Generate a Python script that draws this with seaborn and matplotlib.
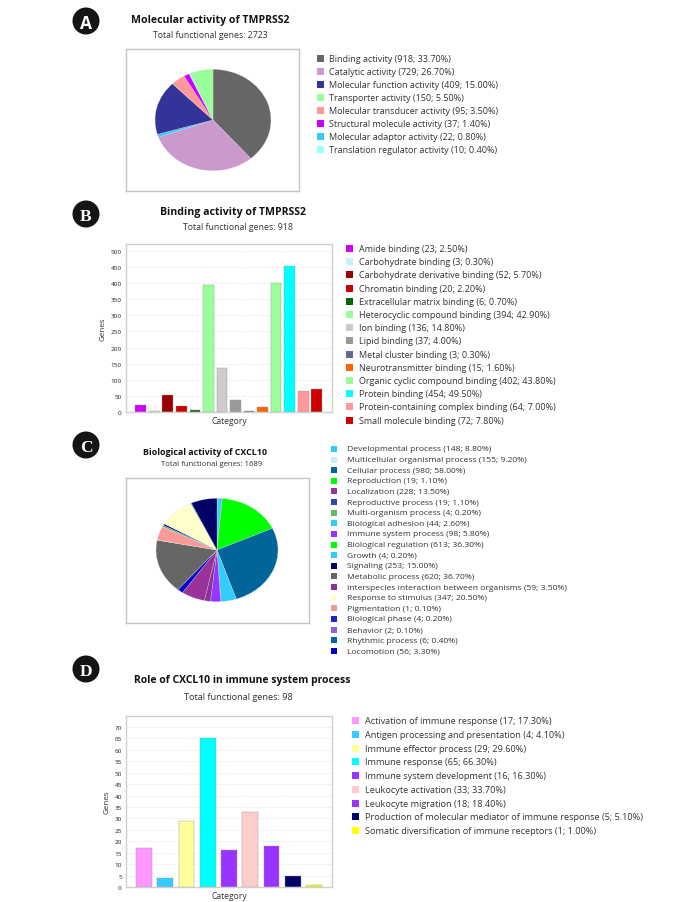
import matplotlib
matplotlib.use("Agg")
import matplotlib.pyplot as plt
import pandas as pd
import seaborn as sns
from matplotlib.patches import Circle, Rectangle

W, H = 679, 903

# Panel A
a_names = ["Binding activity", "Catalytic activity", "Molecular function activity", "Transporter activity",
           "Molecular transducer activity", "Structural molecule activity", "Molecular adaptor activity",
           "Translation regulator activity"]
a_vals = [918, 729, 409, 150, 95, 37, 22, 10]
a_pcts = ["33.70", "26.70", "15.00", "5.50", "3.50", "1.40", "0.80", "0.40"]
a_cols = ["#666666", "#CC99CC", "#333399", "#99FF99", "#FF9999", "#CC00FF", "#33CCFF", "#99FFFF"]
a_pie_order = [0, 1, 6, 2, 4, 5, 7, 3]

# Panel B
b_names = ["Amide binding", "Carbohydrate binding", "Carbohydrate derivative binding", "Chromatin binding",
           "Extracellular matrix binding", "Heterocyclic compound binding", "Ion binding", "Lipid binding",
           "Metal cluster binding", "Neurotransmitter binding", "Organic cyclic compound binding",
           "Protein binding", "Protein-containing complex binding", "Small molecule binding"]
b_vals = [23, 3, 52, 20, 6, 394, 136, 37, 3, 15, 402, 454, 64, 72]
b_pcts = ["2.50", "0.30", "5.70", "2.20", "0.70", "42.90", "14.80", "4.00", "0.30", "1.60", "43.80", "49.50", "7.00", "7.80"]
b_cols = ["#CC00FF", "#CCEEFF", "#990000", "#CC0000", "#006600", "#99FF99", "#CCCCCC", "#999999",
          "#666699", "#FF6600", "#99FF99", "#00FFFF", "#FF9999", "#CC0000"]

# Panel C
c_names = ["Developmental process", "Multicellular organismal process", "Cellular process", "Reproduction",
           "Localization", "Reproductive process", "Multi-organism process", "Biological adhesion",
           "Immune system process", "Biological regulation", "Growth", "Signaling", "Metabolic process",
           "Interspecies interaction between organisms", "Response to stimulus", "Pigmentation",
           "Biological phase", "Behavior", "Rhythmic process", "Locomotion"]
c_vals = [148, 155, 980, 19, 228, 19, 4, 44, 98, 613, 4, 253, 620, 59, 347, 1, 4, 2, 6, 56]
c_pcts = ["8.80", "9.20", "58.00", "1.10", "13.50", "1.10", "0.20", "2.60", "5.80", "36.30", "0.20", "15.00",
          "36.70", "3.50", "20.50", "0.10", "0.20", "0.10", "0.40", "3.30"]
c_leg_cols = ["#33CCFF", "#CCEEEE", "#006699", "#00FF00", "#993399", "#3344AA", "#66BB66", "#33CCFF",
              "#9933FF", "#00FF00", "#33CCFF", "#000066", "#666666", "#883399", "#FFFFCC", "#EE9999",
              "#2222CC", "#8866CC", "#006699", "#0000CC"]
c_pie_order = [17, 7, 16, 9, 2, 0, 10, 8, 13, 4, 19, 12, 6, 1, 15, 3, 5, 14, 18, 11]
c_pie_cols = {7: "#33CCFF", 9: "#00FF00", 2: "#006699", 0: "#33CCFF", 8: "#9933FF", 13: "#883399", 4: "#993399",
              19: "#0000CC", 12: "#666666", 1: "#FF9999", 6: "#66BB66", 3: "#66BB66", 5: "#000099", 14: "#FFFFCC",
              18: "#006699", 11: "#000066", 17: "#8866CC", 16: "#2222CC", 10: "#33CCFF", 15: "#EE9999"}

# Panel D
d_names = ["Activation of immune response", "Antigen processing and presentation", "Immune effector process",
           "Immune response", "Immune system development", "Leukocyte activation", "Leukocyte migration",
           "Production of molecular mediator of immune response", "Somatic diversification of immune receptors"]
d_vals = [17, 4, 29, 65, 16, 33, 18, 5, 1]
d_pcts = ["17.30", "4.10", "29.60", "66.30", "16.30", "33.70", "18.40", "5.10", "1.00"]
d_cols = ["#FF99FF", "#33CCFF", "#FFFF99", "#00FFFF", "#9933FF", "#FFCCCC", "#9933FF", "#000066", "#FFFF00"]

sns.set_theme(style="white")
plt.rcParams["font.family"] = ["Open Sans", "DejaVu Sans"]
fig = plt.figure(figsize=(W / 100, H / 100), dpi=100, facecolor="white")


def axes_px(x0, y0, x1, y1):
    return fig.add_axes([x0 / W, 1 - y1 / H, (x1 - x0) / W, (y1 - y0) / H])


def text_px(x, y, s, **kw):
    kw.setdefault("va", "center")
    kw.setdefault("color", "#333333")
    fig.text(x / W, 1 - y / H, s, **kw)


def legend_px(names, vals, pcts, cols, sq_x, txt_x, y0, step, size, fs):
    for i, (n, v, p, c) in enumerate(zip(names, vals, pcts, cols)):
        y = y0 + i * step
        fig.add_artist(Rectangle(((sq_x - size / 2) / W, 1 - (y + size / 2) / H), size / W, size / H,
                                 transform=fig.transFigure, color=c, lw=0))
        text_px(txt_x, y, f"{n} ({v}; {p}%)", fontsize=fs, ha="left")


def badge(x, y, letter):
    ax = axes_px(x - 15, y - 15, x + 15, y + 15)
    ax.set_xlim(-15, 15)
    ax.set_ylim(-15, 15)
    ax.axis("off")
    ax.add_patch(Circle((0, 0), 13.5, color="#151515", lw=0))
    ax.text(0, 0, letter, color="white", ha="center", va="center_baseline", fontsize=12.5, fontweight="bold",
            family="Liberation Serif" if letter in "BCD" else "Open Sans")


def pie_panel(box, centre, rx, ry, vals, cols):
    ax = axes_px(*box)
    ax.pie(vals, colors=cols, startangle=90, counterclock=False, radius=1,
           wedgeprops={"linewidth": 0.2, "edgecolor": "#dddddd"})
    ax.set_aspect("auto")
    ax.set_xlim(-(centre[0] - box[0]) / rx, (box[2] - centre[0]) / rx)
    ax.set_ylim(-(box[3] - centre[1]) / ry, (centre[1] - box[1]) / ry)
    ax.set_frame_on(True)
    ax.set_xticks([])
    ax.set_yticks([])
    for s in ax.spines.values():
        s.set_visible(True)
        s.set_color("#C4C4C4")
        s.set_linewidth(1.0)


def bar_panel(box, names, vals, cols, ymax, ticks, xlim, width, fs):
    ax = axes_px(*box)
    df = pd.DataFrame({"name": names, "val": vals})
    sns.barplot(data=df, x="name", y="val", hue="name", palette=cols, legend=False, width=width,
                edgecolor="#999999", linewidth=0.3, saturation=1, ax=ax)
    ax.set_xlim(*xlim)
    ax.set_ylim(0, ymax)
    ax.set_xticks([])
    ax.set_yticks(ticks)
    ax.tick_params(axis="y", labelsize=fs, length=0, pad=3, labelcolor="#222222")
    ax.yaxis.grid(True, color="#D8D8D8", lw=0.5, ls=(0, (1, 1.5)))
    ax.set_axisbelow(True)
    ax.set_xlabel("Category", fontsize=6.2, color="#333333", labelpad=3)
    ax.set_ylabel("Genes", fontsize=5.8, color="#333333", labelpad=3)
    for s in ax.spines.values():
        s.set_visible(True)
        s.set_color("#CFCFCF")
        s.set_linewidth(1.0)


# A
badge(86, 22, "A")
text_px(210, 20, "Molecular activity of TMPRSS2", fontsize=7.6, fontweight="bold", ha="center", color="#111111")
text_px(210, 35, "Total functional genes: 2723", fontsize=6.3, ha="center")
pie_panel((126, 50, 299, 192), (213, 121), 58, 50.7, [a_vals[i] for i in a_pie_order], [a_cols[i] for i in a_pie_order])
legend_px(a_names, a_vals, a_pcts, a_cols, 320, 329, 59.5, 13.05, 7, 6.5)

# B
badge(86, 215, "B")
text_px(233, 212, "Binding activity of TMPRSS2", fontsize=7.6, fontweight="bold", ha="center", color="#111111")
text_px(238, 227, "Total functional genes: 918", fontsize=6.3, ha="center")
bar_panel((126, 245, 332, 413), b_names, b_vals, b_cols, 521.7, list(range(0, 501, 50)), (-1.09, 14.13), 0.79, 4.6)
legend_px(b_names, b_vals, b_pcts, b_cols, 349, 359, 249.5, 13.2, 7, 6.5)

# C
badge(86, 446, "C")
text_px(205, 453, "Biological activity of CXCL10", fontsize=6.4, fontweight="bold", ha="center", color="#111111")
text_px(212, 465, "Total functional genes: 1689", fontsize=5.6, ha="center")
pie_panel((126, 479, 309, 624), (217, 551), 61, 51.7, [c_vals[i] for i in c_pie_order],
          [c_pie_cols[i] for i in c_pie_order])
legend_px(c_names, c_vals, c_pcts, c_leg_cols, 334, 347, 450, 10.62, 6, 6.1)

# D
badge(86, 670, "D")
text_px(242, 681, "Role of CXCL10 in immune system process", fontsize=7.5, fontweight="bold", ha="center", color="#111111")
text_px(238, 697, "Total functional genes: 98", fontsize=6.6, ha="center")
bar_panel((126, 717, 332, 888), d_names, d_vals, d_cols, 74.8, list(range(0, 71, 5)), (-0.847, 8.847), 0.75, 4.6)
legend_px(d_names, d_vals, d_pcts, d_cols, 355, 365, 721.7, 13.75, 7, 6.6)

fig.savefig("out.png", dpi=100, facecolor="white")
